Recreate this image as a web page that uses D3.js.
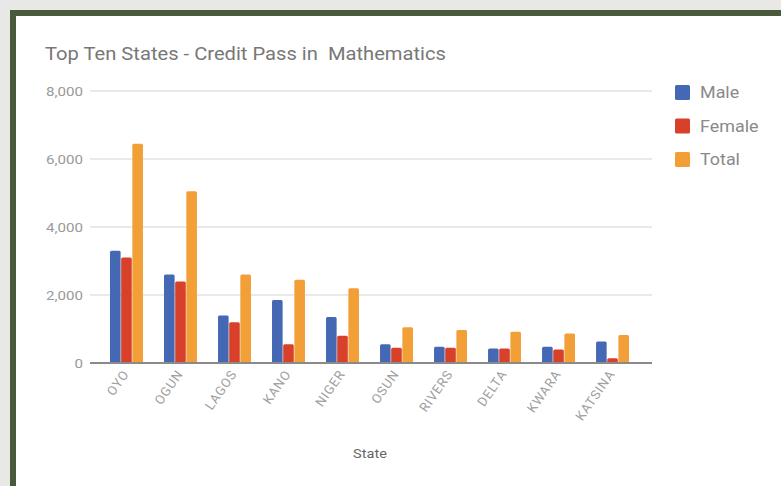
<!DOCTYPE html>
<html>
<head>
<meta charset="utf-8">
<script src="https://cdn.jsdelivr.net/npm/d3@7"></script>
<style>
  body { margin: 0; padding: 0; background: #ffffff; overflow: hidden; }
  svg { display: block; font-family: Roboto, "Open Sans", sans-serif; }
  text { white-space: pre; }
</style>
</head>
<body>
<svg></svg>
<script>
var w = 781,
    h = 486;

// chart data
var states = ["OYO", "OGUN", "LAGOS", "KANO", "NIGER", "OSUN", "RIVERS", "DELTA", "KWARA", "KATSINA"];
var male   = [3300, 2600, 1400, 1850, 1350, 550, 480, 430, 480, 630];
var female = [3100, 2400, 1200,  550,  800, 450, 450, 430, 400, 140];
var total  = [6450, 5050, 2600, 2450, 2200, 1050, 970, 920, 870, 820];
var seriesNames = ["Male", "Female", "Total"];
var yTicks = [0, 2000, 4000, 6000, 8000];

var colors = ["#4468b4", "#d9402a", "#f29f38"];
var series = [male, female, total];

// the picture is a little wider than the font metrics, so text gets stretched
var sx = 1.12;

var svg = d3.select("svg")
  .attr("width", w)
  .attr("height", h);

// frame: white card, grey page strips, dark green border on left and top only
svg.append("rect").attr("width", w).attr("height", h).attr("fill", "#ffffff");
svg.append("rect").attr("x", 0).attr("y", 0).attr("width", 10).attr("height", h).attr("fill", "#e8e8e6");
svg.append("rect").attr("x", 0).attr("y", 0).attr("width", w).attr("height", 10).attr("fill", "#e8e8e6");
svg.append("rect").attr("x", 10).attr("y", 10).attr("width", 6).attr("height", h - 10).attr("fill", "#4b5a3d");
svg.append("rect").attr("x", 10).attr("y", 10).attr("width", w - 10).attr("height", 6).attr("fill", "#4b5a3d");

var plotLeft = 90, plotRight = 652, plotTop = 91, plotBottom = 363;

var x = d3.scaleBand()
  .domain(states)
  .range([110, 629])
  .paddingInner(0.39)
  .paddingOuter(0);

var x1 = d3.scaleBand()
  .domain(seriesNames)
  .range([0, x.bandwidth()])
  .paddingInner(0.05);

var y = d3.scaleLinear()
  .domain([0, 8000])
  .range([plotBottom, plotTop]);

function stretched(px, py) {
  return "translate(" + px + "," + py + ") scale(" + sx + ",1)";
}

// title
svg.append("text")
  .attr("transform", stretched(45, 60))
  .attr("fill", "#777")
  .attr("font-size", 18)
  .text("Top Ten States - Credit Pass in  Mathematics");

// gridlines + y labels
var grid = svg.append("g");
grid.selectAll("line")
  .data(yTicks.filter(function(d){ return d > 0; }))
  .enter()
  .append("line")
  .attr("x1", plotLeft)
  .attr("x2", plotRight)
  .attr("y1", function(d){ return y(d); })
  .attr("y2", function(d){ return y(d); })
  .attr("stroke", "#e2e2e2")
  .attr("stroke-width", 1.5);

grid.selectAll("text")
  .data(yTicks)
  .enter()
  .append("text")
  .attr("transform", function(d){ return stretched(83, y(d) + 5); })
  .attr("text-anchor", "end")
  .attr("fill", "#9a9a9a")
  .attr("font-size", 13.5)
  .text(function(d){ return d3.format(",")(d); });

// bars
var groups = svg.append("g")
  .selectAll("g")
  .data(states)
  .enter()
  .append("g")
  .attr("transform", function(d){ return "translate(" + x(d) + ",0)"; });

groups.selectAll("rect")
  .data(function(d, i){
    return seriesNames.map(function(s, k){ return {key: s, value: series[k][i], k: k}; });
  })
  .enter()
  .append("rect")
  .attr("x", function(d){ return x1(d.key); })
  .attr("width", x1.bandwidth())
  .attr("y", function(d){ return y(d.value); })
  .attr("height", function(d){ return plotBottom - y(d.value); })
  .attr("rx", 1.5)
  .attr("fill", function(d){ return colors[d.k]; });

// baseline
svg.append("line")
  .attr("x1", plotLeft)
  .attr("x2", plotRight)
  .attr("y1", plotBottom)
  .attr("y2", plotBottom)
  .attr("stroke", "#8a8a8a")
  .attr("stroke-width", 2);

// x labels, rotated
svg.append("g")
  .selectAll("text")
  .data(states)
  .enter()
  .append("text")
  .attr("transform", function(d){
    return "translate(" + (x(d) + x.bandwidth() / 2 + 3) + "," + (plotBottom + 11) + ") rotate(-55)";
  })
  .attr("text-anchor", "end")
  .attr("fill", "#a0a0a0")
  .attr("font-size", 13)
  .attr("letter-spacing", 0.8)
  .text(function(d){ return d; });

// x axis title
svg.append("text")
  .attr("transform", stretched(370, 458))
  .attr("text-anchor", "middle")
  .attr("fill", "#666")
  .attr("font-size", 13)
  .text("State");

// legend
var legend = svg.append("g")
  .selectAll("g")
  .data(seriesNames)
  .enter()
  .append("g")
  .attr("transform", function(d, i){ return "translate(675," + (85 + i * 33.5) + ")"; });

legend.append("rect")
  .attr("width", 15)
  .attr("height", 15)
  .attr("rx", 1.5)
  .attr("fill", function(d, i){ return colors[i]; });

legend.append("text")
  .attr("transform", stretched(25, 13))
  .attr("fill", "#8a8a8a")
  .attr("font-size", 16)
  .text(function(d){ return d; });
</script>
</body>
</html>
